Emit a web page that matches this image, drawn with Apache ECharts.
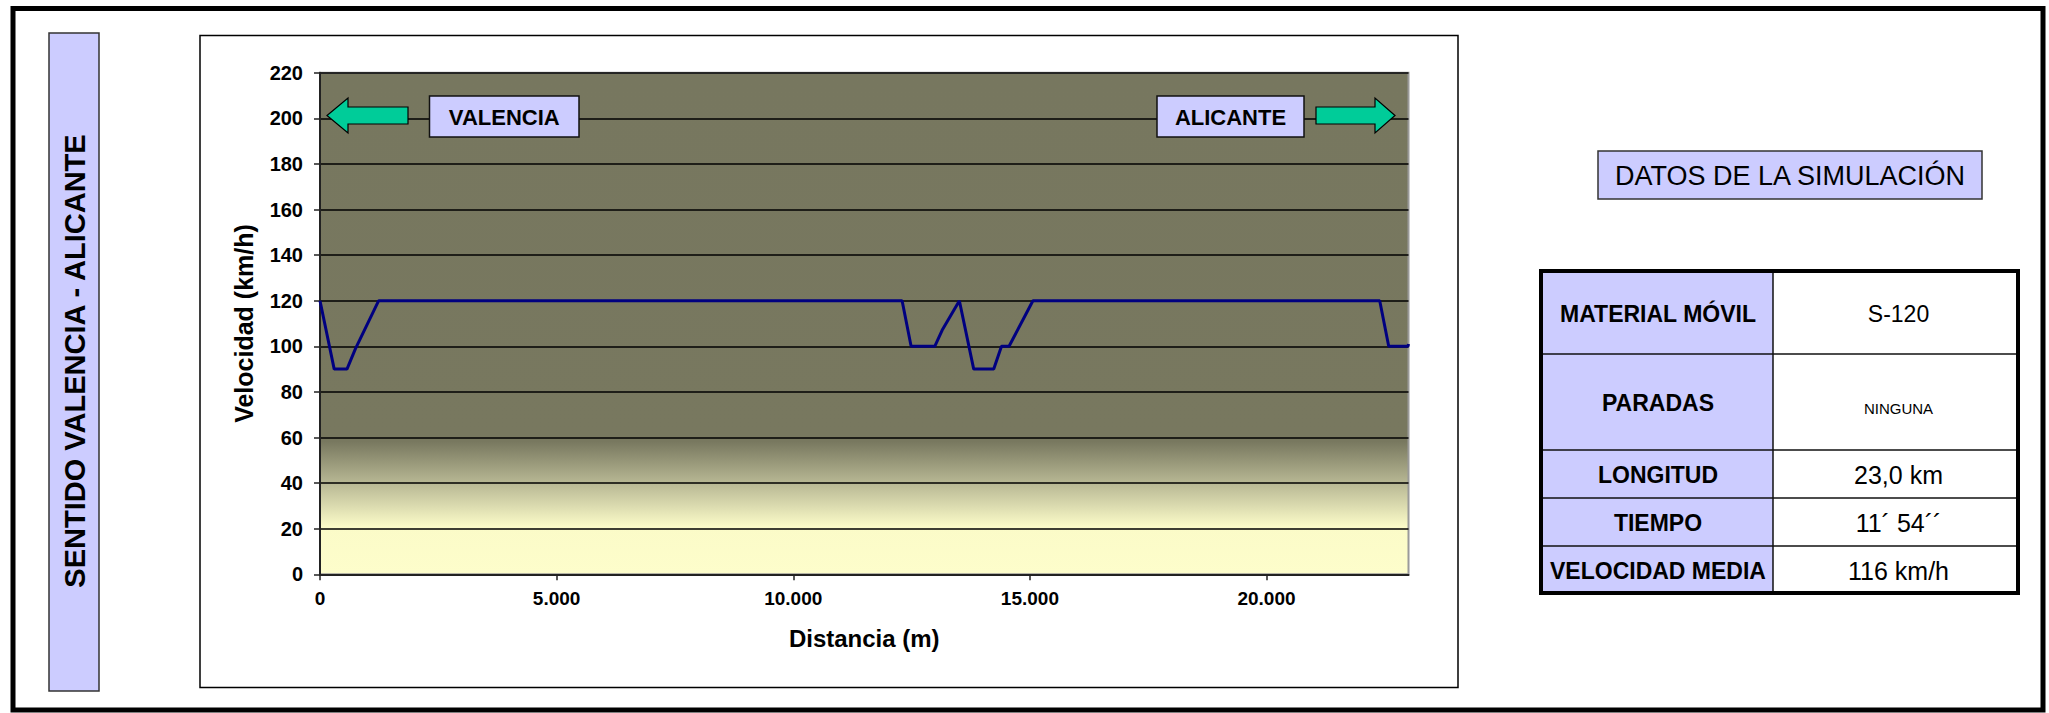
<!DOCTYPE html>
<html>
<head>
<meta charset="utf-8">
<script src="https://cdn.jsdelivr.net/npm/echarts@6/dist/echarts.min.js"></script>
<style>
html,body{margin:0;padding:0;background:#fff;}
#chart{width:2049px;height:713px;}
</style>
</head>
<body>
<div id="chart"></div>
<script>
// ---- data ----
const distanceM = [0, 300, 570, 750, 1240, 12300, 12490, 12990, 13145, 13510, 13813, 14236, 14400, 14560, 15064, 22392, 22582, 22990, 23000];
const speedKmh  = [120, 90, 90, 99, 120, 120, 100, 100, 107, 120, 90, 90, 100, 100, 120, 120, 100, 100, 101];
const xMin = 0, xMax = 23000, xStep = 5000;
const yMin = 0, yMax = 220, yStep = 20;
const sideTitle = 'SENTIDO VALENCIA - ALICANTE';
const xAxisName = 'Distancia (m)';
const yAxisName = 'Velocidad (km/h)';
const leftDir = 'VALENCIA';
const rightDir = 'ALICANTE';
const tableTitle = 'DATOS DE LA SIMULACIÓN';
const tableLabels = ['MATERIAL MÓVIL', 'PARADAS', 'LONGITUD', 'TIEMPO', 'VELOCIDAD MEDIA'];
const tableValues = ['S-120', 'NINGUNA', '23,0 km', '11´ 54´´', '116 km/h'];

// ---- styles ----
const FONT = '"Liberation Sans", Arial, sans-serif';
const LAV = '#CCCCFF';
const TEAL = '#00CC99';

const chart = echarts.init(document.getElementById('chart'), null, {renderer: 'svg'});

function fmtThousands(v) {
  return String(v).replace(/\B(?=(\d{3})+(?!\d))/g, '.');
}

const graphics = [];
// outer frame
graphics.push({type:'rect', z:1, silent:true, shape:{x:13, y:8.5, width:2030, height:701.5},
  style:{fill:'none', stroke:'#000', lineWidth:5}});
// chart frame
graphics.push({type:'rect', z:1, silent:true, shape:{x:200, y:35.5, width:1258, height:652},
  style:{fill:'none', stroke:'#000', lineWidth:1.5}});
// side title box
graphics.push({type:'rect', z:1, silent:true, shape:{x:49, y:33, width:50, height:658},
  style:{fill:LAV, stroke:'#333', lineWidth:1.5}});
graphics.push({type:'text', z:2, silent:true, x:75, y:361, rotation:Math.PI/2,
  style:{text:sideTitle, x:0, y:0, align:'center', verticalAlign:'middle',
         font:'bold 29px ' + FONT, fill:'#000'}});

// direction labels + arrows
function dirBox(x, y, w, h, txt) {
  graphics.push({type:'rect', z:100, silent:true, shape:{x:x, y:y, width:w, height:h},
    style:{fill:LAV, stroke:'#111', lineWidth:1.5}});
  graphics.push({type:'text', z:101, silent:true, x:x + w/2, y:y + h/2 + 1,
    style:{text:txt, x:0, y:0, align:'center', verticalAlign:'middle',
           font:'bold 22px ' + FONT, fill:'#000'}});
}
dirBox(429.5, 96, 149.5, 41, leftDir);
dirBox(1157, 96, 147, 41, rightDir);
graphics.push({type:'polygon', z:100, silent:true,
  shape:{points:[[327,115.5],[348,98],[348,107],[408,107],[408,124],[348,124],[348,133]]},
  style:{fill:TEAL, stroke:'#000', lineWidth:1.2}});
graphics.push({type:'polygon', z:100, silent:true,
  shape:{points:[[1395,115.5],[1375,98],[1375,107],[1316,107],[1316,124],[1375,124],[1375,133]]},
  style:{fill:TEAL, stroke:'#000', lineWidth:1.2}});

// table title
graphics.push({type:'rect', z:1, silent:true, shape:{x:1598, y:151, width:384, height:48},
  style:{fill:LAV, stroke:'#333', lineWidth:1.5}});
graphics.push({type:'text', z:2, silent:true, x:1790, y:176,
  style:{text:tableTitle, x:0, y:0, align:'center', verticalAlign:'middle',
         font:'27px ' + FONT, fill:'#000'}});

// data table
const tX0 = 1541, tX1 = 1773, tX2 = 2018;
const rowEdges = [271, 354, 450, 498, 546, 593];
const valueFonts = ['23px', '15px', '25px', '25px', '25px'];
graphics.push({type:'rect', z:1, silent:true, shape:{x:tX0, y:rowEdges[0], width:tX1 - tX0, height:rowEdges[5] - rowEdges[0]},
  style:{fill:LAV}});
for (let i = 1; i < rowEdges.length - 1; i++) {
  graphics.push({type:'line', z:2, silent:true, shape:{x1:tX0, y1:rowEdges[i], x2:tX2, y2:rowEdges[i]},
    style:{stroke:'#111', lineWidth:1.5}});
}
graphics.push({type:'line', z:2, silent:true, shape:{x1:tX1, y1:rowEdges[0], x2:tX1, y2:rowEdges[5]},
  style:{stroke:'#111', lineWidth:1.5}});
graphics.push({type:'rect', z:3, silent:true, shape:{x:tX0, y:rowEdges[0], width:tX2 - tX0, height:rowEdges[5] - rowEdges[0]},
  style:{fill:'none', stroke:'#000', lineWidth:4}});
for (let i = 0; i < tableLabels.length; i++) {
  const cy = (rowEdges[i] + rowEdges[i+1]) / 2 + 1;
  graphics.push({type:'text', z:4, silent:true, x:(tX0 + tX1)/2 + 1, y:cy,
    style:{text:tableLabels[i], x:0, y:0, align:'center', verticalAlign:'middle',
           font:'bold 23px ' + FONT, fill:'#000'}});
  graphics.push({type:'text', z:4, silent:true, x:(tX1 + tX2)/2 + 3, y:cy + (i === 1 ? 5 : 0),
    style:{text:tableValues[i], x:0, y:0, align:'center', verticalAlign:'middle',
           font:valueFonts[i] + ' ' + FONT, fill:'#000'}});
}

const option = {
  animation: false,
  backgroundColor: '#fff',
  grid: {
    left: 320, right: 640.5, top: 72.7, bottom: 138.7,
    show: true,
    borderColor: '#9a9a9a', borderWidth: 2,
    backgroundColor: {
      type: 'linear', x: 0, y: 0, x2: 0, y2: 1,
      colorStops: [
        {offset: 0, color: '#77775F'},
        {offset: 0.735, color: '#78785F'},
        {offset: 0.82, color: '#B9B995'},
        {offset: 0.905, color: '#FBFBC8'},
        {offset: 1, color: '#FDFDCB'}
      ]
    }
  },
  xAxis: {
    type: 'value', min: xMin, max: xMax, interval: xStep,
    name: xAxisName, nameLocation: 'middle', nameGap: 52,
    nameTextStyle: {fontFamily: FONT, fontWeight: 'bold', fontSize: 24, color: '#000'},
    axisLine: {show: true, onZero: false, lineStyle: {color: '#222', width: 2}},
    axisTick: {show: true, inside: false, length: 6, lineStyle: {color: '#222', width: 1.5}},
    axisLabel: {margin: 15, fontFamily: FONT, fontWeight: 'bold', fontSize: 19, color: '#000',
      formatter: fmtThousands, showMaxLabel: false},
    splitLine: {show: false}
  },
  yAxis: {
    type: 'value', min: yMin, max: yMax, interval: yStep,
    name: yAxisName, nameLocation: 'middle', nameGap: 64, nameRotate: 90,
    nameTextStyle: {fontFamily: FONT, fontWeight: 'bold', fontSize: 25, color: '#000'},
    axisLine: {show: true, lineStyle: {color: '#222', width: 2}},
    axisTick: {show: true, inside: false, length: 6, lineStyle: {color: '#222', width: 1.5}},
    axisLabel: {margin: 17, fontFamily: FONT, fontWeight: 'bold', fontSize: 20, color: '#000'},
    splitLine: {show: true, lineStyle: {color: '#000', width: 1.5}}
  },
  series: [{
    type: 'line',
    data: distanceM.map((d, i) => [d, speedKmh[i]]),
    symbol: 'none',
    lineStyle: {color: '#000080', width: 3},
    z: 5
  }],
  graphic: graphics
};
chart.setOption(option);
</script>
</body>
</html>
